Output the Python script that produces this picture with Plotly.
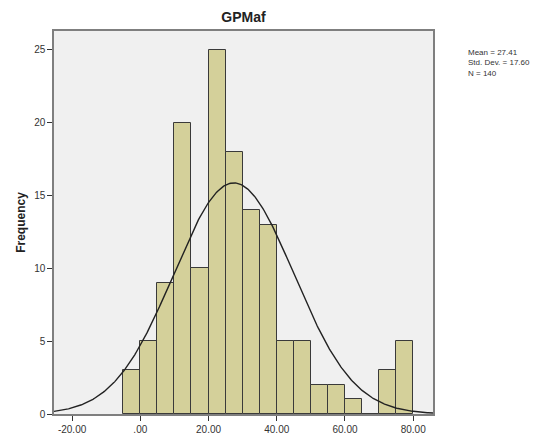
import numpy as np
import plotly.graph_objects as go

# Data
bin_starts = [-5, 0, 5, 10, 15, 20, 25, 30, 35, 40, 45, 50, 55, 60, 65, 70, 75]
counts = [3, 5, 9, 20, 10, 25, 18, 14, 13, 5, 5, 2, 2, 1, 0, 3, 5]
bin_width = 5
mean_val = 27.41
std_val = 17.60
n_val = 140
x_tick_vals = [-20, 0, 20, 40, 60, 80]
x_tick_text = ["-20.00", ".00", "20.00", "40.00", "60.00", "80.00"]
y_tick_vals = [0, 5, 10, 15, 20, 25]

centers = [b + bin_width / 2 for b in bin_starts]

xr = [-25.3, 85.8]
xs = np.linspace(xr[0], xr[1], 400)
ys = n_val * bin_width / (std_val * np.sqrt(2 * np.pi)) * np.exp(-0.5 * ((xs - mean_val) / std_val) ** 2)

L, R, T, B = 54, 126, 31, 20

fig = go.Figure()
fig.add_trace(go.Bar(
    x=centers, y=counts, width=bin_width,
    marker=dict(color="#D4D09A", line=dict(color="#3a3a3a", width=1)),
    showlegend=False, hoverinfo="x+y",
))
fig.add_trace(go.Scatter(
    x=xs, y=ys, mode="lines",
    line=dict(color="#222222", width=1.4),
    showlegend=False, hoverinfo="skip",
))

fig.update_layout(
    width=559, height=434,
    margin=dict(l=L, r=R, t=T, b=B, autoexpand=False),
    paper_bgcolor="white",
    plot_bgcolor="#F0F0F0",
    font=dict(family="Arial, Liberation Sans, sans-serif", size=10, color="#333333"),
    title=dict(text="<b>GPMaf</b>", x=(L + 559 - R) / 2 / 559, xanchor="center",
               y=1 - 17 / 434, yanchor="middle",
               font=dict(size=14, color="#222222")),
    bargap=0,
    xaxis=dict(
        range=xr, tickvals=x_tick_vals, ticktext=x_tick_text,
        showgrid=False, zeroline=False, automargin=False,
        showline=True, mirror=True, linecolor="#7f7f7f", linewidth=1.5,
        ticks="outside", ticklen=5, tickcolor="#333333",
        tickfont=dict(size=10, color="#333333"),
    ),
    yaxis=dict(
        range=[0, 26.3], tickvals=y_tick_vals,
        showgrid=False, zeroline=False, automargin=False,
        showline=True, mirror=True, linecolor="#7f7f7f", linewidth=1.5,
        ticks="outside", ticklen=5, tickcolor="#333333",
        tickfont=dict(size=10, color="#333333"),
        title=dict(text="<b>Frequency</b>", font=dict(size=12, color="#222222"), standoff=6),
    ),
    annotations=[
        dict(text=f"Mean = {mean_val:.2f}<br>Std. Dev. = {std_val:.2f}<br>N = {n_val}",
             xref="paper", yref="paper", x=1.0, y=(434 - B - 46) / (434 - T - B),
             xanchor="left", yanchor="top", xshift=33, align="left", showarrow=False,
             font=dict(size=8, color="#333333")),
    ],
)

fig.write_html("out.html", config={"displayModeBar": False},
               post_script="document.body.style.margin='0';document.body.style.overflow='hidden';")
